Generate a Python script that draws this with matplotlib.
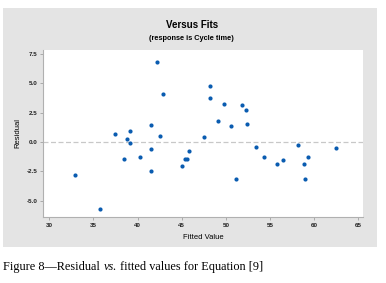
import matplotlib.pyplot as plt
from matplotlib.patches import Rectangle

# fitted values / residuals
fitted = [32.9, 35.7, 37.4, 38.8, 39.1, 39.1, 38.5, 40.3, 41.55, 41.5,
          42.5, 45.0, 45.4, 45.6, 45.8, 47.5, 51.1, 53.4, 54.3, 55.8,
          56.5, 58.2, 58.8, 59.3, 59.0, 62.5, 42.2, 42.9, 48.2, 48.2,
          49.75, 49.1, 50.6, 51.8, 52.3, 52.4, 41.55]
residual = [-2.81, -5.71, 0.66, 0.23, 0.91, -0.09, -1.48, -1.31, -0.63, -2.5,
            0.54, -2.02, -1.45, -1.45, -0.77, 0.43, -3.15, -0.45, -1.31, -1.9,
            -1.53, -0.28, -1.9, -1.31, -3.15, -0.51, 6.82, 4.09, 4.75, 3.72,
            3.24, 1.82, 1.39, 3.13, 2.76, 1.56, 1.45]

xticks = [30, 35, 40, 45, 50, 55, 60, 65]
yticks = [-5.0, -2.5, 0.0, 2.5, 5.0, 7.5]

W, H = 386, 283
fig = plt.figure(figsize=(W / 100, H / 100), dpi=100)
fig.patch.set_facecolor('white')

# grey Minitab panel
fig.patches.append(Rectangle((3 / W, 1 - 247 / H), 374 / W, 239 / H,
                             transform=fig.transFigure, facecolor='#e4e4e4',
                             edgecolor='none', zorder=-5))

ax = fig.add_axes([43.3 / W, 1 - 217.3 / H, 320 / W, 167.3 / H])
ax.set_facecolor('white')
ax.scatter(fitted, residual, s=9, color='#0a5cb0', zorder=3, linewidths=0)
ax.axhline(0, color='#c8c8c8', linestyle=(0, (4, 2)), linewidth=0.9, zorder=1)

ax.set_xlim(29.32, 65.56)
ax.set_ylim(-6.42, 7.84)
ax.set_xticks(xticks)
ax.set_yticks(yticks)
ax.set_xticklabels([str(t) for t in xticks])
ax.set_yticklabels(['%.1f' % t for t in yticks])
ax.tick_params(labelsize=4.5, length=2, width=0.6, color='#a0a0a0', pad=2,
               labelcolor='#222222')
for lab in ax.get_xticklabels() + ax.get_yticklabels():
    lab.set_fontweight('bold')
    lab.set_family('Liberation Sans')
for s in ['top', 'right']:
    ax.spines[s].set_visible(False)
for s in ['left', 'bottom']:
    ax.spines[s].set_color('#b0b0b0')
    ax.spines[s].set_linewidth(0.8)

fig.text(192 / W, 1 - 25.5 / H, 'Versus Fits', ha='center', va='center',
         fontsize=7, fontweight='bold', family='Liberation Sans')
fig.text(191 / W, 1 - 39 / H, '(response is Cycle time)', ha='center',
         va='center', fontsize=5.3, fontweight='bold', family='Liberation Sans')
fig.text(18 / W, 1 - 133 / H, 'Residual', ha='center', va='center',
         rotation=90, fontsize=5.5, family='Liberation Sans')
fig.text(203 / W, 1 - 237.5 / H, 'Fitted Value', ha='center', va='center',
         fontsize=5.5, family='Liberation Sans')

# caption
cap = dict(fontsize=8.8, family='Liberation Serif', va='center')
t1 = fig.text(3.5 / W, 1 - 267 / H, 'Figure 8\u2014Residual', **cap)
fig.canvas.draw()
bb = t1.get_window_extent()
t2 = fig.text((bb.x1 + 3) / W, 1 - 267 / H, 'vs.', style='italic', **cap)
fig.canvas.draw()
bb = t2.get_window_extent()
fig.text((bb.x1 + 3) / W, 1 - 267 / H, 'fitted values for Equation [9]', **cap)

fig.savefig('out.png', dpi=100)
